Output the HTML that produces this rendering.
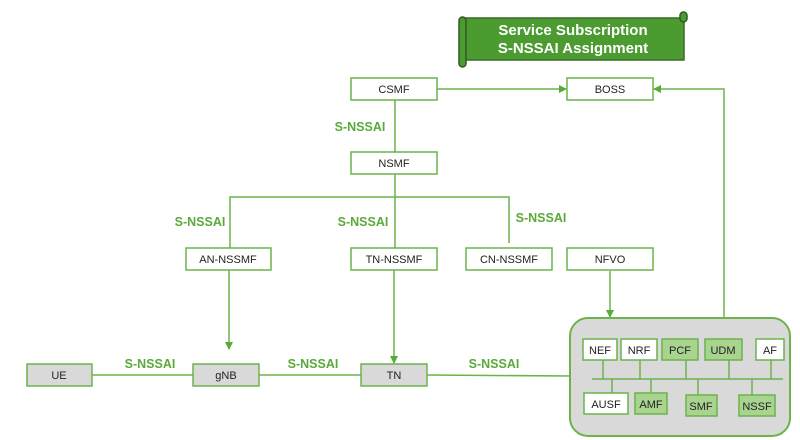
<!DOCTYPE html>
<html><head><meta charset="utf-8"><style>
html,body{margin:0;padding:0;background:#fff;}
svg{display:block;font-family:"Liberation Sans",sans-serif;}
</style></head><body>
<svg width="800" height="440" viewBox="0 0 800 440" xmlns="http://www.w3.org/2000/svg">
<defs>
<marker id="a" markerWidth="8" markerHeight="8" refX="7" refY="4" orient="auto" markerUnits="userSpaceOnUse">
<path d="M0,0 L8,4 L0,8 z" fill="#5aaa3a"/></marker>
</defs>
<g stroke="#6cb34a" stroke-width="1.5" fill="none">
<!-- banner -->
<path d="M462,18 H684 V60 H466 Z" fill="#4b9b31" stroke="#3a6b2a"/>
<rect x="459" y="17" width="7" height="50" rx="3.5" fill="#4b9b31" stroke="#2f5a22"/>
<rect x="680" y="12" width="7" height="10" rx="3.5" fill="#4b9b31" stroke="#2f5a22"/>
<!-- connectors -->
<line x1="437" y1="89" x2="566" y2="89" marker-end="url(#a)"/>
<polyline points="724,318 724,89 654,89" marker-end="url(#a)"/>
<line x1="395" y1="100" x2="395" y2="152"/>
<line x1="395" y1="174" x2="395" y2="249"/>
<polyline points="230,249 230,197 509,197 509,243"/>
<line x1="229" y1="270" x2="229" y2="349" marker-end="url(#a)"/>
<line x1="394" y1="270" x2="394" y2="363" marker-end="url(#a)"/>
<line x1="610" y1="271" x2="610" y2="317" marker-end="url(#a)"/>
<line x1="92" y1="375" x2="193" y2="375"/>
<line x1="259" y1="375" x2="361" y2="375"/>
<line x1="427" y1="375" x2="571" y2="376"/>
<!-- container -->
<rect x="570" y="318" width="220" height="118" rx="18" fill="#d9d9d9" stroke="#6cb34a" stroke-width="2"/>
<line x1="592" y1="379" x2="783" y2="379"/>
<line x1="603" y1="360" x2="603" y2="379"/><line x1="640" y1="360" x2="640" y2="379"/>
<line x1="686" y1="360" x2="686" y2="379"/><line x1="729" y1="360" x2="729" y2="379"/>
<line x1="771" y1="360" x2="771" y2="379"/>
<line x1="612" y1="379" x2="612" y2="393"/><line x1="651" y1="379" x2="651" y2="393"/>
<line x1="698" y1="379" x2="698" y2="395"/><line x1="752" y1="379" x2="752" y2="395"/>
<!-- boxes -->
<g fill="#fff">
<rect x="351" y="78" width="86" height="22"/><rect x="567" y="78" width="86" height="22"/>
<rect x="351" y="152" width="86" height="22"/>
<rect x="186" y="248" width="85" height="22"/><rect x="351" y="248" width="86" height="22"/>
<rect x="466" y="248" width="86" height="22"/><rect x="567" y="248" width="86" height="22"/>
<rect x="583" y="339" width="34" height="21"/><rect x="621" y="339" width="36" height="21"/>
<rect x="756" y="339" width="28" height="21"/><rect x="584" y="393" width="44" height="21"/>
</g>
<g fill="#d9d9d9">
<rect x="27" y="364" width="65" height="22"/><rect x="193" y="364" width="66" height="22"/>
<rect x="361" y="364" width="66" height="22"/>
</g>
<g fill="#a9d48f">
<rect x="662" y="339" width="36" height="21"/><rect x="705" y="339" width="37" height="21"/>
<rect x="635" y="393" width="32" height="21"/><rect x="686" y="395" width="31" height="21"/>
<rect x="739" y="395" width="36" height="21"/>
</g>
</g>
<g font-size="15" font-weight="bold" fill="#fff" text-anchor="middle">
<text x="573" y="35">Service Subscription</text><text x="573" y="53">S-NSSAI Assignment</text>
</g>
<g font-size="11" fill="#222" text-anchor="middle">
<text x="394" y="93">CSMF</text><text x="610" y="93">BOSS</text><text x="394" y="167">NSMF</text>
<text x="228" y="263">AN-NSSMF</text><text x="394" y="263">TN-NSSMF</text>
<text x="509" y="263">CN-NSSMF</text><text x="610" y="263">NFVO</text>
<text x="59" y="379">UE</text><text x="226" y="379">gNB</text><text x="394" y="379">TN</text>
<text x="600" y="354">NEF</text><text x="639" y="354">NRF</text><text x="680" y="354">PCF</text>
<text x="723" y="354">UDM</text><text x="770" y="354">AF</text>
<text x="606" y="408">AUSF</text><text x="651" y="408">AMF</text><text x="701" y="410">SMF</text>
<text x="757" y="410">NSSF</text>
</g>
<g font-size="12.5" font-weight="bold" fill="#5aaa3a" text-anchor="middle">
<text x="360" y="131">S-NSSAI</text><text x="200" y="226">S-NSSAI</text>
<text x="363" y="226">S-NSSAI</text><text x="541" y="222">S-NSSAI</text>
<text x="150" y="368">S-NSSAI</text><text x="313" y="368">S-NSSAI</text>
<text x="494" y="368">S-NSSAI</text>
</g>
</svg>
</body></html>
